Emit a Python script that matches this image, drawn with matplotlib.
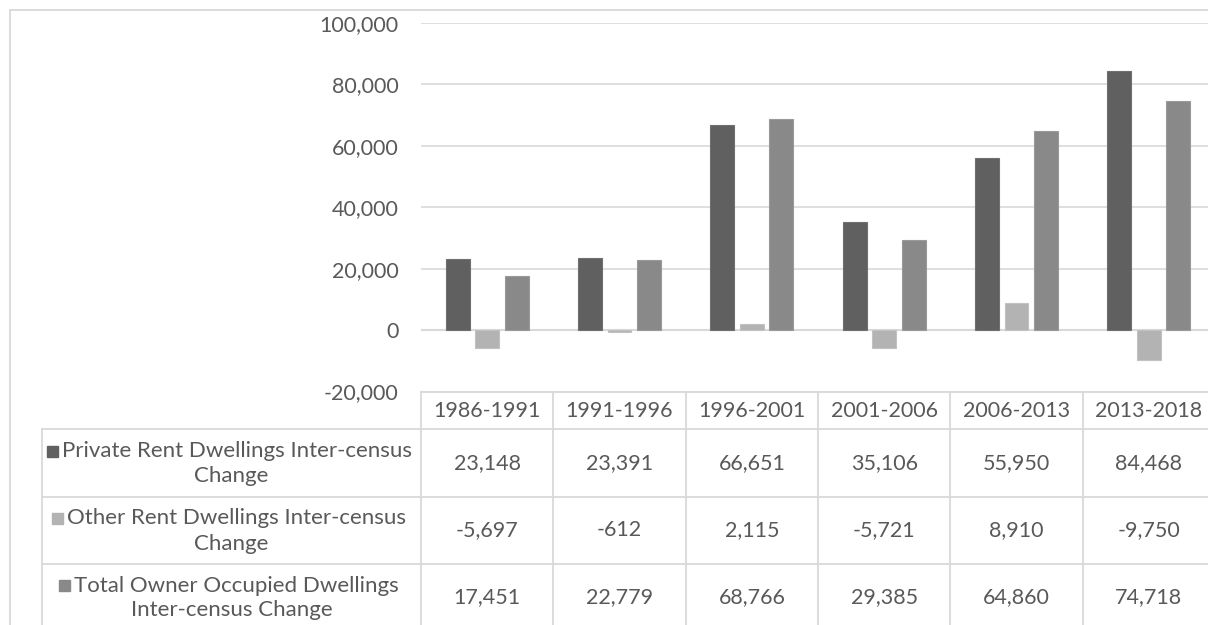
import matplotlib.pyplot as plt
import numpy as np
from matplotlib.patches import Rectangle

plt.rcParams['font.family'] = ['Lato', 'DejaVu Sans']

## inter-census periods and the change in dwellings for each series
periods = ["1986-1991", "1991-1996", "1996-2001", "2001-2006", "2006-2013", "2013-2018"]
private_rent = [23148, 23391, 66651, 35106, 55950, 84468]
other_rent = [-5697, -612, 2115, -5721, 8910, -9750]
owner_occupied = [17451, 22779, 68766, 29385, 64860, 74718]

series_names = ["Private Rent Dwellings Inter-census\nChange",
                "Other Rent Dwellings Inter-census\nChange",
                "Total Owner Occupied Dwellings\nInter-census Change"]
series_values = [private_rent, other_rent, owner_occupied]
series_colors = ["#606060", "#b3b3b3", "#898989"]
edge_colors = ["#707070", "#c2c2c2", "#9a9a9a"]

text_col = "#595959"
line_col = "#d9d9d9"
fs = 15.5
W, H = 1208, 625

fig = plt.figure(figsize=(W / 100, H / 100), dpi=100)

## bar chart area (pixel positions turned into figure fractions)
left, right, top, bottom = 421, 1215, 23, 391.5
ax = fig.add_axes([left / W, 1 - bottom / H, (right - left) / W, (bottom - top) / H])

x = np.arange(len(periods))
step = 0.223
width = 0.18
for i, (vals, col, ec) in enumerate(zip(series_values, series_colors, edge_colors)):
    ax.bar(x + (i - 1) * step, vals, width, color=col, edgecolor=ec,
           linewidth=0.8, zorder=3)

ax.set_xlim(-0.5, len(periods) - 0.5)
ax.set_ylim(-20000, 100000)
ax.set_yticks(np.arange(-20000, 100001, 20000))
ax.set_yticklabels(["{:,}".format(v) for v in range(-20000, 100001, 20000)])
ax.tick_params(axis="y", length=0, pad=16, labelsize=fs, labelcolor=text_col)
ax.tick_params(axis="x", length=0, labelbottom=False)
ax.grid(axis="y", color=line_col, linewidth=1.2, zorder=0)
for s in ax.spines.values():
    s.set_visible(False)
ax.axhline(0, color=line_col, linewidth=1.5, zorder=2)

## overlay in pixel coordinates for the data table and the chart border
ov = fig.add_axes([0, 0, 1, 1], zorder=5)
ov.set_xlim(0, W)
ov.set_ylim(H, 0)
ov.axis("off")
ov.patch.set_alpha(0)

# outer chart border (top and left edge)
ov.plot([10, W + 5], [9.5, 9.5], color=line_col, lw=1.3)
ov.plot([10, 10], [9.5, H + 5], color=line_col, lw=1.3)

col_w = (right - left) / len(periods)
col_edges = [left + k * col_w for k in range(len(periods) + 1)]
row_edges = [bottom, 429, 497, 564, 631]
label_left = 42

# header row
ov.plot([left, W + 5], [row_edges[0], row_edges[0]], color=line_col, lw=1.3)
for k, p in enumerate(periods):
    cx = (col_edges[k] + col_edges[k + 1]) / 2
    ov.text(cx, (row_edges[0] + row_edges[1]) / 2 + 1, p, ha="center", va="center",
            fontsize=fs, color=text_col)
for xe in col_edges:
    ov.plot([xe, xe], [row_edges[0], H + 5], color=line_col, lw=1.3)

# series rows
for r in range(1, 4):
    ov.plot([label_left, W + 5], [row_edges[r], row_edges[r]], color=line_col, lw=1.3)
ov.plot([label_left, label_left], [row_edges[1], H + 5], color=line_col, lw=1.3)

fig.canvas.draw()
renderer = fig.canvas.get_renderer()
label_cx = (label_left + left) / 2
for r, (name, vals, col) in enumerate(zip(series_names, series_values, series_colors)):
    y0, y1 = row_edges[r + 1], row_edges[r + 2]
    cy = (y0 + y1) / 2
    first, second = name.split("\n")
    sq = 11
    t1 = ov.text(label_cx + (sq + 5) / 2 - 3, cy - 12, first, ha="center", va="center",
                 fontsize=16, color=text_col)
    ov.text(label_cx, cy + 13, second, ha="center", va="center",
            fontsize=16, color=text_col)
    bb = t1.get_window_extent(renderer)
    ov.add_patch(Rectangle((bb.x0 - sq - 4, cy - 12 - sq / 2), sq, sq, color=col))
    for k, v in enumerate(vals):
        cx = (col_edges[k] + col_edges[k + 1]) / 2
        ov.text(cx, cy, "{:,}".format(v), ha="center", va="center",
                fontsize=fs, color=text_col)

fig.savefig("out.png", dpi=100)
